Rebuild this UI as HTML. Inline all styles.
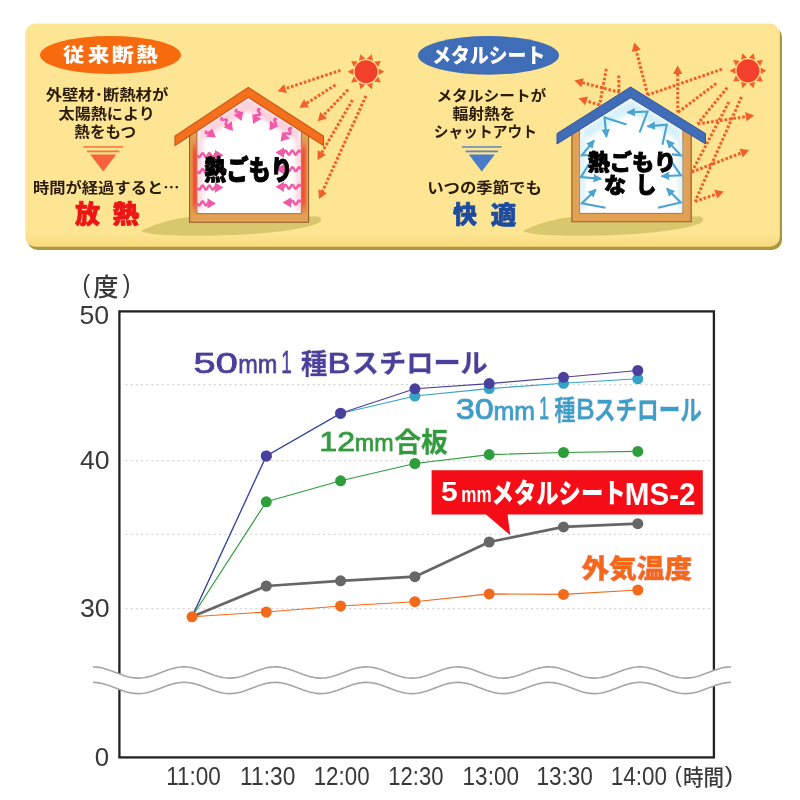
<!DOCTYPE html><html lang="ja"><head><meta charset="utf-8"><title>chart</title>
<style>html,body{margin:0;padding:0;background:#fff}svg{display:block}text{font-family:"Liberation Sans","Noto Sans CJK JP",sans-serif}.j{font-family:"Noto Sans CJK JP",sans-serif}</style></head><body>
<svg width="800" height="800" viewBox="0 0 800 800">
<defs><filter id="blur3" x="-100%" y="-20%" width="300%" height="140%"><feGaussianBlur stdDeviation="1.3 4"/></filter><linearGradient id="pg" x1="0" x2="0" y1="0" y2="1"><stop offset="0" stop-color="#fde593"/><stop offset="0.94" stop-color="#fde593"/><stop offset="1" stop-color="#f8da7c"/></linearGradient><filter id="halo" x="-5%" y="-30%" width="110%" height="160%"><feMorphology in="SourceAlpha" operator="dilate" radius="1.7" result="d"/><feGaussianBlur in="d" stdDeviation="0.5" result="db"/><feFlood flood-color="#fff"/><feComposite in2="db" operator="in" result="h"/><feMerge><feMergeNode in="h"/><feMergeNode in="h"/><feMergeNode in="SourceGraphic"/></feMerge></filter><filter id="blur2" x="-50%" y="-50%" width="200%" height="200%"><feGaussianBlur stdDeviation="2"/></filter><filter id="soft" x="-2%" y="-2%" width="104%" height="104%"><feGaussianBlur stdDeviation="0.5"/></filter><linearGradient id="wl" x1="0" x2="1" y1="0" y2="0"><stop offset="0" stop-color="#dc9a4c"/><stop offset="0.45" stop-color="#e8804a"/><stop offset="1" stop-color="#f05a3c"/></linearGradient><linearGradient id="wr" x1="1" x2="0" y1="0" y2="0"><stop offset="0" stop-color="#dc9a4c"/><stop offset="0.45" stop-color="#e8804a"/><stop offset="1" stop-color="#f05a3c"/></linearGradient></defs>
<rect width="800" height="800" fill="#fff"/>
<g filter="url(#soft)">
<rect x="27.5" y="27" width="754.5" height="223" rx="10" fill="#ad963f"/>
<rect x="25.3" y="23.5" width="754.5" height="223.3" rx="10" fill="url(#pg)"/>
<path d="M141,231 C150,226 170,219 192,216.5 L318,216.5 C323,218 322,222 316,224 C308,227 300,228 290,230 C270,233 240,235.5 215,235.5 C185,236 150,236 141,231Z" fill="#d9c76e"/>
<path d="M141,231 C150,226 170,219 192,216.5 L318,216.5 C323,218 322,222 316,224 C308,227 300,228 290,230 C270,233 240,235.5 215,235.5 C185,236 150,236 141,231Z" fill="#d9c76e" transform="translate(382,0)"/>
<polygon points="189.6,222.3 189.6,133.8 248.3,94.9 308.6,134.9 308.6,222.3" fill="#e2a052" stroke="#96592c" stroke-width="1.1"/>
<polygon points="197.0,213.6 197.0,129.9 248.3,95.9 301.3,131.0 301.3,213.6" fill="#fff" stroke="#96592c" stroke-width="0.8"/>
<clipPath id="wc"><rect x="190.2" y="138" width="6.4" height="78"/><rect x="301.7" y="138" width="6.4" height="78"/></clipPath>
<g clip-path="url(#wc)"><g filter="url(#blur3)" opacity="0.95"><rect x="192.6" y="146" width="5.5" height="62" fill="#f2462a"/><rect x="300.2" y="146" width="5.5" height="62" fill="#f2462a"/></g></g>
<g filter="url(#blur2)" opacity="0.4"><polygon points="248.3,98 199,130 199,142 248.3,111 299,142 299,130" fill="#f58aa8"/><rect x="197.5" y="140" width="5" height="70" fill="#f58aa8"/><rect x="296" y="140" width="5" height="70" fill="#f58aa8"/></g>
<polygon points="248.3,87.4 323.5,136 323.5,145.5 248.3,97.4 175,145.5 175,136" fill="#f5701c" stroke="#c9531a" stroke-width="1.1"/>
<polygon points="571.9,221.8 571.9,132.6 630.6,95.5 691.2,133.8 691.2,221.8" fill="#e2a052" stroke="#96592c" stroke-width="1.1"/>
<polygon points="579.6,213.4 579.6,128.7 630.6,96.5 682.8,129.5 682.8,213.4" fill="#fff" stroke="#96592c" stroke-width="0.8"/>
<g filter="url(#blur2)" opacity="0.45"><polygon points="630.6,99 582,130 582,142 630.6,112 681,142 681,130" fill="#a8def2"/><rect x="580" y="140" width="5" height="70" fill="#a8def2"/><rect x="678" y="140" width="5" height="70" fill="#a8def2"/></g>
<polygon points="630.6,87 705.5,133.5 705.5,144 630.6,97.8 557,144 557,133.5" fill="#3f6cb8" stroke="#34579a" stroke-width="1"/>
<polyline points="237.0,109.0 236.3,109.8 235.8,110.6 235.7,111.2 236.0,111.6 236.7,111.9 237.7,112.1 238.8,112.3 239.8,112.5 240.4,112.8 240.7,113.3 240.5,113.9 240.0,114.6 239.3,115.5" fill="none" stroke="#f05aa8" stroke-width="2.4"/>
<polygon points="241.5,121.0 233.7,114.8 243.3,111.3" fill="#f05aa8"/>
<polyline points="222.0,117.0 221.6,118.0 221.4,118.8 221.4,119.4 221.8,119.8 222.5,119.9 223.5,119.8 224.5,119.6 225.5,119.5 226.3,119.5 226.8,119.8 226.9,120.4 226.7,121.2 226.3,122.2 225.9,123.1 225.6,124.0 225.6,124.7 225.9,125.1 226.5,125.2 227.5,125.2 228.5,125.0 229.5,124.8 230.4,124.8 230.9,125.1" fill="none" stroke="#f05aa8" stroke-width="2.4"/>
<polygon points="233.0,131.0 223.7,127.5 231.8,121.2" fill="#f05aa8"/>
<polyline points="206.0,130.5 205.9,131.6 205.9,132.4 206.1,133.0 206.6,133.2 207.4,133.1 208.3,132.7 209.3,132.2 210.2,131.8 210.9,131.7 211.4,131.9 211.7,132.4 211.7,133.3" fill="none" stroke="#f05aa8" stroke-width="2.4"/>
<polygon points="216.0,137.5 206.1,136.8 212.0,128.4" fill="#f05aa8"/>
<polyline points="260.5,109.0 259.4,109.1 258.6,109.2 258.0,109.5 257.9,110.0 258.1,110.7 258.6,111.5 259.2,112.4 259.8,113.2 260.1,114.0 260.0,114.5 259.5,114.8 258.7,115.0 257.7,115.1 256.6,115.1 255.7,115.2 255.1,115.5 254.8,116.0 255.0,116.6 255.5,117.4 256.1,118.3 256.6,119.2" fill="none" stroke="#f05aa8" stroke-width="2.4"/>
<polygon points="253.0,124.0 252.2,114.1 261.4,118.7" fill="#f05aa8"/>
<polyline points="277.0,119.0 275.9,118.9 275.1,119.0 274.5,119.2 274.3,119.7 274.4,120.4 274.9,121.3 275.4,122.3 275.8,123.2 276.0,123.9 275.8,124.4 275.3,124.7 274.5,124.8 273.4,124.7 272.3,124.6 271.4,124.7" fill="none" stroke="#f05aa8" stroke-width="2.4"/>
<polygon points="269.5,130.5 269.9,120.6 278.4,126.2" fill="#f05aa8"/>
<polyline points="292.0,128.5 291.0,128.3 290.1,128.2 289.5,128.4 289.2,128.8 289.3,129.5 289.5,130.5 289.9,131.5 290.2,132.5 290.3,133.2 290.1,133.7 289.5,133.9 288.6,133.8 287.6,133.6 286.6,133.4 285.7,133.3 285.0,133.4 284.7,133.8 284.7,134.5 285.0,135.5 285.4,136.5 285.7,137.4 285.8,138.2" fill="none" stroke="#f05aa8" stroke-width="2.4"/>
<polygon points="280.5,141.5 282.3,131.8 290.0,138.5" fill="#f05aa8"/>
<polyline points="197.5,155.2 198.0,156.1 198.5,156.8 199.0,157.2 199.5,157.1 200.0,156.7 200.5,155.9 201.0,155.0 201.5,154.1 202.0,153.5 202.5,153.2 203.0,153.3 203.5,153.9 204.0,154.7 204.5,155.6 205.0,156.4 205.5,157.0 206.0,157.2 206.5,157.0 207.0,156.4 207.5,155.5 208.0,154.6 208.5,153.8 209.0,153.3 209.5,153.2 210.0,153.5 210.5,154.2 211.0,155.1 211.5,156.0 212.0,156.7 212.5,157.1 213.0,157.2 213.5,156.8 214.0,156.0 214.5,155.1 215.0,154.2 215.5,153.6 216.0,153.2 216.5,153.3 217.0,153.8 217.6,154.6" fill="none" stroke="#f05aa8" stroke-width="2.4"/>
<polygon points="223.5,155.2 215.0,160.3 215.0,150.1" fill="#f05aa8"/>
<polyline points="197.5,171.0 198.0,171.9 198.5,172.6 199.0,173.0 199.5,172.9 200.0,172.5 200.5,171.7 201.0,170.8 201.5,169.9 202.0,169.3 202.5,169.0 203.0,169.1 203.5,169.7 204.0,170.5 204.5,171.4 205.0,172.2 205.5,172.8 206.0,173.0 206.5,172.8 207.0,172.2 207.5,171.3 208.0,170.4 208.5,169.6 209.0,169.1 209.5,169.0 210.0,169.3 210.5,170.0 211.0,170.9 211.5,171.8 212.0,172.5 212.5,172.9 213.0,173.0 213.5,172.6 214.0,171.8 214.5,170.9 215.0,170.0 215.5,169.4 216.0,169.0 216.5,169.1 217.0,169.6 217.6,170.4" fill="none" stroke="#f05aa8" stroke-width="2.4"/>
<polygon points="223.5,171.0 215.0,176.1 215.0,165.9" fill="#f05aa8"/>
<polyline points="197.5,187.6 198.0,188.5 198.5,189.2 199.0,189.6 199.5,189.5 200.0,189.1 200.5,188.3 201.0,187.4 201.5,186.5 202.0,185.9 202.5,185.6 203.0,185.7 203.5,186.3 204.0,187.1 204.5,188.0 205.0,188.8 205.5,189.4 206.0,189.6 206.5,189.4 207.0,188.8 207.5,187.9 208.0,187.0 208.5,186.2 209.0,185.7 209.5,185.6 210.0,185.9 210.5,186.6 211.0,187.5 211.5,188.4 212.0,189.1 212.5,189.5 213.0,189.6 213.5,189.2 214.0,188.4 214.5,187.5 215.0,186.6 215.5,186.0 216.0,185.6 216.5,185.7 217.0,186.2 217.6,187.0" fill="none" stroke="#f05aa8" stroke-width="2.4"/>
<polygon points="223.5,187.6 215.0,192.7 215.0,182.5" fill="#f05aa8"/>
<polyline points="197.5,203.4 198.0,204.3 198.5,205.0 199.0,205.4 199.5,205.3 200.0,204.9 200.5,204.1 201.0,203.2 201.5,202.3 202.0,201.7 202.5,201.4 203.0,201.6 203.5,202.1 204.0,202.9 204.5,203.8 205.0,204.6 205.5,205.2 206.0,205.4 206.5,205.2 207.0,204.5 207.5,203.7 208.0,202.8 208.5,202.0 209.0,201.5 209.5,201.4 210.1,201.8" fill="none" stroke="#f05aa8" stroke-width="2.4"/>
<polygon points="216.0,203.4 207.5,208.5 207.5,198.3" fill="#f05aa8"/>
<polyline points="300.8,152.6 300.3,151.7 299.8,151.0 299.3,150.6 298.8,150.7 298.3,151.2 297.7,152.0 297.2,152.9 296.7,153.8 296.2,154.4 295.7,154.6 295.2,154.4 294.7,153.8 294.2,152.9 293.7,152.0 293.2,151.2 292.7,150.7 292.1,150.6 291.6,151.0 291.1,151.7 290.6,152.6 290.1,153.5 289.6,154.2 289.1,154.6 288.6,154.5 288.1,154.0 287.6,153.3 287.1,152.3 286.5,151.5 286.0,150.8 285.5,150.6 285.0,150.8 284.5,151.4 284.0,152.2 283.5,153.2 283.0,154.0 282.5,154.5 282.0,154.6 281.4,154.2" fill="none" stroke="#f05aa8" stroke-width="2.4"/>
<polygon points="275.5,152.6 284.0,147.5 284.0,157.7" fill="#f05aa8"/>
<polyline points="300.8,169.2 300.3,168.3 299.8,167.6 299.3,167.2 298.8,167.3 298.3,167.8 297.7,168.6 297.2,169.5 296.7,170.4 296.2,171.0 295.7,171.2 295.2,171.0 294.7,170.4 294.2,169.5 293.7,168.6 293.2,167.8 292.7,167.3 292.1,167.2 291.6,167.6 291.1,168.3 290.6,169.2 290.1,170.1 289.6,170.8 289.1,171.2 288.6,171.1 288.1,170.6 287.6,169.9 287.1,168.9 286.5,168.1 286.0,167.4 285.5,167.2 285.0,167.4 284.5,168.0 284.0,168.8 283.5,169.8 283.0,170.6 282.5,171.1 282.0,171.2 281.4,170.8" fill="none" stroke="#f05aa8" stroke-width="2.4"/>
<polygon points="275.5,169.2 284.0,164.1 284.0,174.3" fill="#f05aa8"/>
<polyline points="300.8,186.8 300.3,185.9 299.8,185.2 299.3,184.8 298.8,184.9 298.3,185.4 297.7,186.2 297.2,187.1 296.7,188.0 296.2,188.6 295.7,188.8 295.2,188.6 294.7,188.0 294.2,187.1 293.7,186.2 293.2,185.4 292.7,184.9 292.1,184.8 291.6,185.2 291.1,185.9 290.6,186.8 290.1,187.7 289.6,188.4 289.1,188.8 288.6,188.7 288.1,188.2 287.6,187.5 287.1,186.5 286.5,185.7 286.0,185.0 285.5,184.8 285.0,185.0 284.5,185.6 284.0,186.4 283.5,187.4 283.0,188.2 282.5,188.7 282.0,188.8 281.4,188.4" fill="none" stroke="#f05aa8" stroke-width="2.4"/>
<polygon points="275.5,186.8 284.0,181.7 284.0,191.9" fill="#f05aa8"/>
<polyline points="300.8,202.5 300.3,201.6 299.8,200.9 299.3,200.5 298.7,200.6 298.2,201.1 297.7,201.9 297.2,202.9 296.7,203.7 296.2,204.3 295.7,204.5 295.1,204.2 294.6,203.6 294.1,202.7 293.6,201.8 293.1,201.0 292.6,200.6 292.1,200.6 291.5,201.0 291.0,201.7 290.5,202.7 290.0,203.6 289.5,204.2 289.0,204.5 288.4,204.3" fill="none" stroke="#f05aa8" stroke-width="2.4"/>
<polygon points="282.5,202.5 291.0,197.4 291.0,207.6" fill="#f05aa8"/>
<polyline points="626.5,124.6 604.6,117.6 606.4,136.9" fill="none" stroke="#48a4d2" stroke-width="2.1" stroke-linejoin="miter"/>
<polygon points="606.5,137.9 601.6,129.8 609.8,129.0" fill="#48a4d2"/>
<polyline points="639.6,132.5 647.5,111.5 627.4,112.4" fill="none" stroke="#48a4d2" stroke-width="2.1" stroke-linejoin="miter"/>
<polygon points="626.4,112.4 634.7,107.9 635.1,116.2" fill="#48a4d2"/>
<polyline points="662.4,144.8 666.8,124.6 647.5,126.4" fill="none" stroke="#48a4d2" stroke-width="2.1" stroke-linejoin="miter"/>
<polygon points="646.5,126.5 654.6,121.6 655.3,129.8" fill="#48a4d2"/>
<polyline points="672.0,154.4 680.8,155.3 666.8,140.4" fill="none" stroke="#48a4d2" stroke-width="2.1" stroke-linejoin="miter"/>
<polygon points="666.1,139.6 674.9,143.0 668.9,148.7" fill="#48a4d2"/>
<polyline points="672.0,162.3 680.8,175.4 661.5,176.3" fill="none" stroke="#48a4d2" stroke-width="2.1" stroke-linejoin="miter"/>
<polygon points="660.5,176.3 668.8,171.8 669.2,180.0" fill="#48a4d2"/>
<polyline points="658.0,207.8 680.8,202.5 666.8,188.5" fill="none" stroke="#48a4d2" stroke-width="2.1" stroke-linejoin="miter"/>
<polygon points="666.0,187.8 675.0,190.9 669.1,196.7" fill="#48a4d2"/>
<polyline points="588.9,155.3 581.9,155.3 594.1,140.4" fill="none" stroke="#48a4d2" stroke-width="2.1" stroke-linejoin="miter"/>
<polygon points="594.8,139.6 592.5,148.8 586.2,143.5" fill="#48a4d2"/>
<polyline points="588.9,164.0 581.0,177.1 601.1,178.9" fill="none" stroke="#48a4d2" stroke-width="2.1" stroke-linejoin="miter"/>
<polygon points="602.1,179.0 593.3,182.3 594.0,174.1" fill="#48a4d2"/>
<polyline points="605.5,207.8 581.9,203.4 595.9,189.4" fill="none" stroke="#48a4d2" stroke-width="2.1" stroke-linejoin="miter"/>
<polygon points="596.6,188.7 593.5,197.6 587.7,191.8" fill="#48a4d2"/>
<circle cx="366.0" cy="71.7" r="11.5" fill="#f2402a"/>
<polygon points="384.4,71.7 378.6,75.0 378.6,68.4" fill="#f4622a"/>
<polygon points="380.9,82.5 374.3,81.8 378.1,76.4" fill="#f4622a"/>
<polygon points="371.7,89.2 366.8,84.7 373.0,82.7" fill="#f4622a"/>
<polygon points="360.3,89.2 359.0,82.7 365.2,84.7" fill="#f4622a"/>
<polygon points="351.1,82.5 353.9,76.4 357.7,81.8" fill="#f4622a"/>
<polygon points="347.6,71.7 353.4,68.4 353.4,75.0" fill="#f4622a"/>
<polygon points="351.1,60.9 357.7,61.6 353.9,67.0" fill="#f4622a"/>
<polygon points="360.3,54.2 365.2,58.7 359.0,60.7" fill="#f4622a"/>
<polygon points="371.7,54.2 373.0,60.7 366.8,58.7" fill="#f4622a"/>
<polygon points="380.9,60.9 378.1,67.0 374.3,61.6" fill="#f4622a"/>
<circle cx="748.0" cy="70.8" r="11.5" fill="#f2402a"/>
<polygon points="766.4,70.8 760.6,74.1 760.6,67.5" fill="#f4622a"/>
<polygon points="762.9,81.6 756.3,80.9 760.1,75.5" fill="#f4622a"/>
<polygon points="753.7,88.3 748.8,83.8 755.0,81.8" fill="#f4622a"/>
<polygon points="742.3,88.3 741.0,81.8 747.2,83.8" fill="#f4622a"/>
<polygon points="733.1,81.6 735.9,75.5 739.7,80.9" fill="#f4622a"/>
<polygon points="729.6,70.8 735.4,67.5 735.4,74.1" fill="#f4622a"/>
<polygon points="733.1,60.0 739.7,60.7 735.9,66.1" fill="#f4622a"/>
<polygon points="742.3,53.3 747.2,57.8 741.0,59.8" fill="#f4622a"/>
<polygon points="753.7,53.3 755.0,59.8 748.8,57.8" fill="#f4622a"/>
<polygon points="762.9,60.0 760.1,66.1 756.3,60.7" fill="#f4622a"/>
<line x1="340.5" y1="70.3" x2="284.0" y2="89.1" stroke="#f0602a" stroke-width="3.0" stroke-dasharray="2.7 1.8"/>
<polygon points="277.5,91.3 284.1,84.2 287.0,93.0" fill="#f0602a"/>
<line x1="335.5" y1="85.0" x2="305.1" y2="104.2" stroke="#f0602a" stroke-width="3.0" stroke-dasharray="2.7 1.8"/>
<polygon points="299.3,107.8 304.0,99.3 309.0,107.2" fill="#f0602a"/>
<line x1="348.0" y1="89.8" x2="322.4" y2="116.4" stroke="#f0602a" stroke-width="3.0" stroke-dasharray="2.7 1.8"/>
<polygon points="317.7,121.3 320.2,111.9 327.0,118.4" fill="#f0602a"/>
<line x1="352.5" y1="100.0" x2="320.9" y2="154.1" stroke="#f0602a" stroke-width="3.0" stroke-dasharray="2.7 1.8"/>
<polygon points="317.5,160.0 317.7,150.3 325.8,155.0" fill="#f0602a"/>
<line x1="366.0" y1="95.8" x2="321.8" y2="192.8" stroke="#f0602a" stroke-width="3.0" stroke-dasharray="2.7 1.8"/>
<polygon points="319.0,199.0 318.3,189.3 326.8,193.2" fill="#f0602a"/>
<line x1="619.8" y1="92.4" x2="580.9" y2="82.3" stroke="#f0602a" stroke-width="3.0" stroke-dasharray="2.7 1.8"/>
<polygon points="574.3,80.6 583.7,78.2 581.4,87.3" fill="#f0602a"/>
<line x1="599.6" y1="105.0" x2="585.0" y2="100.4" stroke="#f0602a" stroke-width="3.0" stroke-dasharray="2.7 1.8"/>
<polygon points="578.5,98.3 588.0,96.4 585.2,105.3" fill="#f0602a"/>
<line x1="606.3" y1="68.8" x2="599.6" y2="105.0" stroke="#f0602a" stroke-width="3.0" stroke-dasharray="2.7 1.8"/>
<line x1="618.7" y1="75.5" x2="619.0" y2="93.2" stroke="#f0602a" stroke-width="3.0" stroke-dasharray="2.7 1.8"/>
<line x1="722.0" y1="69.2" x2="647.7" y2="94.9" stroke="#f0602a" stroke-width="3.0" stroke-dasharray="2.7 1.8"/>
<line x1="647.7" y1="94.9" x2="635.9" y2="49.2" stroke="#f0602a" stroke-width="3.0" stroke-dasharray="2.7 1.8"/>
<polygon points="634.2,42.6 640.9,49.7 631.8,52.0" fill="#f0602a"/>
<line x1="716.2" y1="83.4" x2="677.7" y2="112.6" stroke="#f0602a" stroke-width="3.0" stroke-dasharray="2.7 1.8"/>
<line x1="677.7" y1="112.6" x2="677.7" y2="72.2" stroke="#f0602a" stroke-width="3.0" stroke-dasharray="2.7 1.8"/>
<polygon points="677.7,65.4 682.4,73.9 673.0,73.9" fill="#f0602a"/>
<line x1="727.2" y1="87.6" x2="697.7" y2="123.9" stroke="#f0602a" stroke-width="3.0" stroke-dasharray="2.7 1.8"/>
<line x1="697.7" y1="123.9" x2="747.5" y2="116.4" stroke="#f0602a" stroke-width="3.0" stroke-dasharray="2.7 1.8"/>
<polygon points="754.2,115.4 746.5,121.3 745.1,112.0" fill="#f0602a"/>
<line x1="728.9" y1="101.9" x2="691.8" y2="172.0" stroke="#f0602a" stroke-width="3.0" stroke-dasharray="2.7 1.8"/>
<line x1="691.8" y1="172.0" x2="742.8" y2="152.4" stroke="#f0602a" stroke-width="3.0" stroke-dasharray="2.7 1.8"/>
<polygon points="749.1,150.0 742.8,157.4 739.5,148.7" fill="#f0602a"/>
<line x1="741.5" y1="96.9" x2="695.1" y2="201.5" stroke="#f0602a" stroke-width="3.0" stroke-dasharray="2.7 1.8"/>
<line x1="695.1" y1="201.5" x2="717.4" y2="193.7" stroke="#f0602a" stroke-width="3.0" stroke-dasharray="2.7 1.8"/>
<polygon points="723.8,191.4 717.3,198.6 714.2,189.8" fill="#f0602a"/>
<ellipse cx="110.5" cy="55" rx="70.5" ry="19" fill="#f76a0e"/>
<text x="63.07" y="62.32" font-size="18.75" font-weight="900" fill="#fff" textLength="21.35" lengthAdjust="spacingAndGlyphs" >従</text>
<text x="87.77" y="62.32" font-size="18.75" font-weight="900" fill="#fff" textLength="21.58" lengthAdjust="spacingAndGlyphs" >来</text>
<text x="111.7" y="62.31" font-size="18.95" font-weight="900" fill="#fff" textLength="22.04" lengthAdjust="spacingAndGlyphs" >断</text>
<text x="136.36" y="62.32" font-size="18.75" font-weight="900" fill="#fff" textLength="21.35" lengthAdjust="spacingAndGlyphs" >熱</text>
<text x="45.67" y="99.69" font-size="14.58" font-weight="700" fill="#2a1a08" textLength="122.65" lengthAdjust="spacingAndGlyphs" >外壁材･断熱材が</text>
<text x="58.52" y="118.66" font-size="14.89" font-weight="700" fill="#2a1a08" textLength="96.38" lengthAdjust="spacingAndGlyphs" >太陽熱により</text>
<text x="74.38" y="137.16" font-size="14.89" font-weight="700" fill="#2a1a08" textLength="61.71" lengthAdjust="spacingAndGlyphs" >熱をもつ</text>
<text x="33.02" y="193.19" font-size="14.58" font-weight="700" fill="#2a1a08" textLength="146.44" lengthAdjust="spacingAndGlyphs" >時間が経過すると<tspan class="j">…</tspan></text>
<text x="75.0" y="223.31" font-size="24.49" font-weight="900" fill="#ec1414" textLength="25.0" lengthAdjust="spacingAndGlyphs" stroke="#ec1414" stroke-width="0.7" stroke-linejoin="round" >放</text>
<text x="112.47" y="223.31" font-size="24.49" font-weight="900" fill="#ec1414" textLength="26.53" lengthAdjust="spacingAndGlyphs" stroke="#ec1414" stroke-width="0.7" stroke-linejoin="round" >熱</text>
<rect x="83.3" y="146.2" width="39.8" height="1.5" fill="#ee7838"/>
<rect x="87.0" y="150.5" width="32.4" height="1.8" fill="#ee7838"/>
<polygon points="90.2,154.4 116.2,154.4 103.2,171.4" fill="#f7623c"/>
<ellipse cx="488.5" cy="55.4" rx="70.5" ry="19.3" fill="#3f6db8"/>
<text x="432.31" y="62.87" font-size="20.43" font-weight="900" fill="#fff" textLength="112.95" lengthAdjust="spacingAndGlyphs" >メタルシート</text>
<text x="436.43" y="100.96" font-size="14.89" font-weight="700" fill="#2a1a08" textLength="109.88" lengthAdjust="spacingAndGlyphs" >メタルシートが</text>
<text x="452.53" y="118.66" font-size="14.89" font-weight="700" fill="#2a1a08" textLength="63.05" lengthAdjust="spacingAndGlyphs" >輻射熱を</text>
<text x="433.82" y="136.84" font-size="15.05" font-weight="700" fill="#2a1a08" textLength="103.09" lengthAdjust="spacingAndGlyphs" >シャットアウト</text>
<rect x="461.9" y="146.2" width="39.8" height="1.5" fill="#6288b4"/>
<rect x="465.6" y="150.5" width="32.4" height="1.8" fill="#6288b4"/>
<polygon points="468.8,154.4 494.8,154.4 481.8,171.4" fill="#4a7cc8"/>
<text x="427.2" y="193.17" font-size="14.74" font-weight="700" fill="#2a1a08" textLength="114.6" lengthAdjust="spacingAndGlyphs" >いつの季節でも</text>
<text x="453.0" y="223.09" font-size="24.24" font-weight="900" fill="#1c4ca0" textLength="24.0" lengthAdjust="spacingAndGlyphs" stroke="#1c4ca0" stroke-width="0.7" stroke-linejoin="round" >快</text>
<text x="490.74" y="223.53" font-size="24.74" font-weight="900" fill="#1c4ca0" textLength="25.51" lengthAdjust="spacingAndGlyphs" stroke="#1c4ca0" stroke-width="0.7" stroke-linejoin="round" >適</text>
<text x="204.28" y="179.71" font-size="27.45" font-weight="900" fill="#000" textLength="88.44" lengthAdjust="spacingAndGlyphs" stroke="#000" stroke-width="1.0" stroke-linejoin="round" >熱ごもり</text>
<text x="587.78" y="169.66" font-size="21.18" font-weight="900" fill="#000" textLength="88.25" lengthAdjust="spacingAndGlyphs" stroke="#000" stroke-width="0.9" stroke-linejoin="round" >熱ごもり</text>
<text x="604.11" y="193.05" font-size="21.7" font-weight="900" fill="#000" textLength="22.15" lengthAdjust="spacingAndGlyphs" stroke="#000" stroke-width="0.9" stroke-linejoin="round" >な</text>
<text x="635.71" y="192.98" font-size="22.42" font-weight="900" fill="#000" textLength="20.53" lengthAdjust="spacingAndGlyphs" stroke="#000" stroke-width="0.9" stroke-linejoin="round" >し</text>
<rect x="119.4" y="311.4" width="594.5" height="446.0" fill="#fff" stroke="#222" stroke-width="2.3"/>
<line x1="125.4" y1="384.6" x2="711.9" y2="384.6" stroke="#d4d4d4" stroke-width="1.2" stroke-dasharray="2 3.2"/>
<line x1="125.4" y1="460.6" x2="711.9" y2="460.6" stroke="#d4d4d4" stroke-width="1.2" stroke-dasharray="2 3.2"/>
<line x1="125.4" y1="534.3" x2="711.9" y2="534.3" stroke="#d4d4d4" stroke-width="1.2" stroke-dasharray="2 3.2"/>
<line x1="125.4" y1="608.6" x2="711.9" y2="608.6" stroke="#d4d4d4" stroke-width="1.2" stroke-dasharray="2 3.2"/>
<polygon points="93.0,666.9 95.0,667.0 97.0,667.1 99.0,667.4 101.0,667.8 103.0,668.2 105.0,668.8 107.0,669.4 109.0,670.0 111.0,670.8 113.0,671.5 115.0,672.3 117.0,673.0 119.0,673.8 121.0,674.5 123.0,675.2 125.0,675.9 127.0,676.5 129.0,677.0 131.0,677.4 133.0,677.7 135.0,677.9 137.0,678.1 139.0,678.1 141.0,678.0 143.0,677.8 145.0,677.5 147.0,677.1 149.0,676.7 151.0,676.1 153.0,675.5 155.0,674.8 157.0,674.1 159.0,673.3 161.0,672.6 163.0,671.8 165.0,671.1 167.0,670.3 169.0,669.6 171.0,669.0 173.0,668.4 175.0,667.9 177.0,667.5 179.0,667.2 181.0,667.0 183.0,666.9 185.0,666.9 187.0,667.0 189.0,667.2 191.0,667.5 193.0,667.9 195.0,668.4 197.0,669.0 199.0,669.6 201.0,670.3 203.0,671.1 205.0,671.8 207.0,672.6 209.0,673.3 211.0,674.1 213.0,674.8 215.0,675.5 217.0,676.1 219.0,676.7 221.0,677.1 223.0,677.5 225.0,677.8 227.0,678.0 229.0,678.1 231.0,678.1 233.0,677.9 235.0,677.7 237.0,677.4 239.0,677.0 241.0,676.5 243.0,675.9 245.0,675.2 247.0,674.5 249.0,673.8 251.0,673.0 253.0,672.3 255.0,671.5 257.0,670.8 259.0,670.0 261.0,669.4 263.0,668.8 265.0,668.2 267.0,667.8 269.0,667.4 271.0,667.1 273.0,667.0 275.0,666.9 277.0,666.9 279.0,667.1 281.0,667.3 283.0,667.7 285.0,668.1 287.0,668.7 289.0,669.2 291.0,669.9 293.0,670.6 295.0,671.4 297.0,672.1 299.0,672.9 301.0,673.6 303.0,674.4 305.0,675.1 307.0,675.8 309.0,676.3 311.0,676.9 313.0,677.3 315.0,677.7 317.0,677.9 319.0,678.1 321.0,678.1 323.0,678.0 325.0,677.9 327.0,677.6 329.0,677.2 331.0,676.8 333.0,676.2 335.0,675.6 337.0,675.0 339.0,674.2 341.0,673.5 343.0,672.7 345.0,672.0 347.0,671.2 349.0,670.5 351.0,669.8 353.0,669.1 355.0,668.5 357.0,668.0 359.0,667.6 361.0,667.3 363.0,667.1 365.0,666.9 367.0,666.9 369.0,667.0 371.0,667.2 373.0,667.5 375.0,667.9 377.0,668.3 379.0,668.9 381.0,669.5 383.0,670.2 385.0,670.9 387.0,671.7 389.0,672.4 391.0,673.2 393.0,673.9 395.0,674.7 397.0,675.4 399.0,676.0 401.0,676.6 403.0,677.1 405.0,677.5 407.0,677.8 409.0,678.0 411.0,678.1 413.0,678.1 415.0,678.0 417.0,677.8 419.0,677.5 421.0,677.1 423.0,676.6 425.0,676.0 427.0,675.4 429.0,674.7 431.0,673.9 433.0,673.2 435.0,672.4 437.0,671.7 439.0,670.9 441.0,670.2 443.0,669.5 445.0,668.9 447.0,668.3 449.0,667.9 451.0,667.5 453.0,667.2 455.0,667.0 457.0,666.9 459.0,666.9 461.0,667.1 463.0,667.3 465.0,667.6 467.0,668.0 469.0,668.5 471.0,669.1 473.0,669.8 475.0,670.5 477.0,671.2 479.0,672.0 481.0,672.7 483.0,673.5 485.0,674.2 487.0,675.0 489.0,675.6 491.0,676.2 493.0,676.8 495.0,677.2 497.0,677.6 499.0,677.9 501.0,678.0 503.0,678.1 505.0,678.1 507.0,677.9 509.0,677.7 511.0,677.3 513.0,676.9 515.0,676.3 517.0,675.8 519.0,675.1 521.0,674.4 523.0,673.6 525.0,672.9 527.0,672.1 529.0,671.4 531.0,670.6 533.0,669.9 535.0,669.2 537.0,668.7 539.0,668.1 541.0,667.7 543.0,667.3 545.0,667.1 547.0,666.9 549.0,666.9 551.0,667.0 553.0,667.1 555.0,667.4 557.0,667.8 559.0,668.2 561.0,668.8 563.0,669.4 565.0,670.0 567.0,670.8 569.0,671.5 571.0,672.3 573.0,673.0 575.0,673.8 577.0,674.5 579.0,675.2 581.0,675.9 583.0,676.5 585.0,677.0 587.0,677.4 589.0,677.7 591.0,677.9 593.0,678.1 595.0,678.1 597.0,678.0 599.0,677.8 601.0,677.5 603.0,677.1 605.0,676.7 607.0,676.1 609.0,675.5 611.0,674.8 613.0,674.1 615.0,673.3 617.0,672.6 619.0,671.8 621.0,671.1 623.0,670.3 625.0,669.6 627.0,669.0 629.0,668.4 631.0,667.9 633.0,667.5 635.0,667.2 637.0,667.0 639.0,666.9 641.0,666.9 643.0,667.0 645.0,667.2 647.0,667.5 649.0,667.9 651.0,668.4 653.0,669.0 655.0,669.6 657.0,670.3 659.0,671.1 661.0,671.8 663.0,672.6 665.0,673.3 667.0,674.1 669.0,674.8 671.0,675.5 673.0,676.1 675.0,676.7 677.0,677.1 679.0,677.5 681.0,677.8 683.0,678.0 685.0,678.1 687.0,678.1 689.0,677.9 691.0,677.7 693.0,677.4 695.0,677.0 697.0,676.5 699.0,675.9 701.0,675.2 703.0,674.5 705.0,673.8 707.0,673.0 709.0,672.3 711.0,671.5 713.0,670.8 715.0,670.0 717.0,669.4 719.0,668.8 721.0,668.2 723.0,667.8 725.0,667.4 727.0,667.1 729.0,667.0 731.0,666.9 731.0,682.4 729.0,682.5 727.0,682.6 725.0,682.9 723.0,683.3 721.0,683.7 719.0,684.3 717.0,684.9 715.0,685.5 713.0,686.3 711.0,687.0 709.0,687.8 707.0,688.5 705.0,689.3 703.0,690.0 701.0,690.7 699.0,691.4 697.0,692.0 695.0,692.5 693.0,692.9 691.0,693.2 689.0,693.4 687.0,693.6 685.0,693.6 683.0,693.5 681.0,693.3 679.0,693.0 677.0,692.6 675.0,692.2 673.0,691.6 671.0,691.0 669.0,690.3 667.0,689.6 665.0,688.8 663.0,688.1 661.0,687.3 659.0,686.6 657.0,685.8 655.0,685.1 653.0,684.5 651.0,683.9 649.0,683.4 647.0,683.0 645.0,682.7 643.0,682.5 641.0,682.4 639.0,682.4 637.0,682.5 635.0,682.7 633.0,683.0 631.0,683.4 629.0,683.9 627.0,684.5 625.0,685.1 623.0,685.8 621.0,686.6 619.0,687.3 617.0,688.1 615.0,688.8 613.0,689.6 611.0,690.3 609.0,691.0 607.0,691.6 605.0,692.2 603.0,692.6 601.0,693.0 599.0,693.3 597.0,693.5 595.0,693.6 593.0,693.6 591.0,693.4 589.0,693.2 587.0,692.9 585.0,692.5 583.0,692.0 581.0,691.4 579.0,690.7 577.0,690.0 575.0,689.3 573.0,688.5 571.0,687.8 569.0,687.0 567.0,686.3 565.0,685.5 563.0,684.9 561.0,684.3 559.0,683.7 557.0,683.3 555.0,682.9 553.0,682.6 551.0,682.5 549.0,682.4 547.0,682.4 545.0,682.6 543.0,682.8 541.0,683.2 539.0,683.6 537.0,684.2 535.0,684.7 533.0,685.4 531.0,686.1 529.0,686.9 527.0,687.6 525.0,688.4 523.0,689.1 521.0,689.9 519.0,690.6 517.0,691.3 515.0,691.8 513.0,692.4 511.0,692.8 509.0,693.2 507.0,693.4 505.0,693.6 503.0,693.6 501.0,693.5 499.0,693.4 497.0,693.1 495.0,692.7 493.0,692.3 491.0,691.7 489.0,691.1 487.0,690.5 485.0,689.7 483.0,689.0 481.0,688.2 479.0,687.5 477.0,686.7 475.0,686.0 473.0,685.3 471.0,684.6 469.0,684.0 467.0,683.5 465.0,683.1 463.0,682.8 461.0,682.6 459.0,682.4 457.0,682.4 455.0,682.5 453.0,682.7 451.0,683.0 449.0,683.4 447.0,683.8 445.0,684.4 443.0,685.0 441.0,685.7 439.0,686.4 437.0,687.2 435.0,687.9 433.0,688.7 431.0,689.4 429.0,690.2 427.0,690.9 425.0,691.5 423.0,692.1 421.0,692.6 419.0,693.0 417.0,693.3 415.0,693.5 413.0,693.6 411.0,693.6 409.0,693.5 407.0,693.3 405.0,693.0 403.0,692.6 401.0,692.1 399.0,691.5 397.0,690.9 395.0,690.2 393.0,689.4 391.0,688.7 389.0,687.9 387.0,687.2 385.0,686.4 383.0,685.7 381.0,685.0 379.0,684.4 377.0,683.8 375.0,683.4 373.0,683.0 371.0,682.7 369.0,682.5 367.0,682.4 365.0,682.4 363.0,682.6 361.0,682.8 359.0,683.1 357.0,683.5 355.0,684.0 353.0,684.6 351.0,685.3 349.0,686.0 347.0,686.7 345.0,687.5 343.0,688.2 341.0,689.0 339.0,689.7 337.0,690.5 335.0,691.1 333.0,691.7 331.0,692.3 329.0,692.7 327.0,693.1 325.0,693.4 323.0,693.5 321.0,693.6 319.0,693.6 317.0,693.4 315.0,693.2 313.0,692.8 311.0,692.4 309.0,691.8 307.0,691.3 305.0,690.6 303.0,689.9 301.0,689.1 299.0,688.4 297.0,687.6 295.0,686.9 293.0,686.1 291.0,685.4 289.0,684.7 287.0,684.2 285.0,683.6 283.0,683.2 281.0,682.8 279.0,682.6 277.0,682.4 275.0,682.4 273.0,682.5 271.0,682.6 269.0,682.9 267.0,683.3 265.0,683.7 263.0,684.3 261.0,684.9 259.0,685.5 257.0,686.3 255.0,687.0 253.0,687.8 251.0,688.5 249.0,689.3 247.0,690.0 245.0,690.7 243.0,691.4 241.0,692.0 239.0,692.5 237.0,692.9 235.0,693.2 233.0,693.4 231.0,693.6 229.0,693.6 227.0,693.5 225.0,693.3 223.0,693.0 221.0,692.6 219.0,692.2 217.0,691.6 215.0,691.0 213.0,690.3 211.0,689.6 209.0,688.8 207.0,688.1 205.0,687.3 203.0,686.6 201.0,685.8 199.0,685.1 197.0,684.5 195.0,683.9 193.0,683.4 191.0,683.0 189.0,682.7 187.0,682.5 185.0,682.4 183.0,682.4 181.0,682.5 179.0,682.7 177.0,683.0 175.0,683.4 173.0,683.9 171.0,684.5 169.0,685.1 167.0,685.8 165.0,686.6 163.0,687.3 161.0,688.1 159.0,688.8 157.0,689.6 155.0,690.3 153.0,691.0 151.0,691.6 149.0,692.2 147.0,692.6 145.0,693.0 143.0,693.3 141.0,693.5 139.0,693.6 137.0,693.6 135.0,693.4 133.0,693.2 131.0,692.9 129.0,692.5 127.0,692.0 125.0,691.4 123.0,690.7 121.0,690.0 119.0,689.3 117.0,688.5 115.0,687.8 113.0,687.0 111.0,686.3 109.0,685.5 107.0,684.9 105.0,684.3 103.0,683.7 101.0,683.3 99.0,682.9 97.0,682.6 95.0,682.5 93.0,682.4" fill="#fff"/>
<polyline points="93.0,666.9 95.0,667.0 97.0,667.1 99.0,667.4 101.0,667.8 103.0,668.2 105.0,668.8 107.0,669.4 109.0,670.0 111.0,670.8 113.0,671.5 115.0,672.3 117.0,673.0 119.0,673.8 121.0,674.5 123.0,675.2 125.0,675.9 127.0,676.5 129.0,677.0 131.0,677.4 133.0,677.7 135.0,677.9 137.0,678.1 139.0,678.1 141.0,678.0 143.0,677.8 145.0,677.5 147.0,677.1 149.0,676.7 151.0,676.1 153.0,675.5 155.0,674.8 157.0,674.1 159.0,673.3 161.0,672.6 163.0,671.8 165.0,671.1 167.0,670.3 169.0,669.6 171.0,669.0 173.0,668.4 175.0,667.9 177.0,667.5 179.0,667.2 181.0,667.0 183.0,666.9 185.0,666.9 187.0,667.0 189.0,667.2 191.0,667.5 193.0,667.9 195.0,668.4 197.0,669.0 199.0,669.6 201.0,670.3 203.0,671.1 205.0,671.8 207.0,672.6 209.0,673.3 211.0,674.1 213.0,674.8 215.0,675.5 217.0,676.1 219.0,676.7 221.0,677.1 223.0,677.5 225.0,677.8 227.0,678.0 229.0,678.1 231.0,678.1 233.0,677.9 235.0,677.7 237.0,677.4 239.0,677.0 241.0,676.5 243.0,675.9 245.0,675.2 247.0,674.5 249.0,673.8 251.0,673.0 253.0,672.3 255.0,671.5 257.0,670.8 259.0,670.0 261.0,669.4 263.0,668.8 265.0,668.2 267.0,667.8 269.0,667.4 271.0,667.1 273.0,667.0 275.0,666.9 277.0,666.9 279.0,667.1 281.0,667.3 283.0,667.7 285.0,668.1 287.0,668.7 289.0,669.2 291.0,669.9 293.0,670.6 295.0,671.4 297.0,672.1 299.0,672.9 301.0,673.6 303.0,674.4 305.0,675.1 307.0,675.8 309.0,676.3 311.0,676.9 313.0,677.3 315.0,677.7 317.0,677.9 319.0,678.1 321.0,678.1 323.0,678.0 325.0,677.9 327.0,677.6 329.0,677.2 331.0,676.8 333.0,676.2 335.0,675.6 337.0,675.0 339.0,674.2 341.0,673.5 343.0,672.7 345.0,672.0 347.0,671.2 349.0,670.5 351.0,669.8 353.0,669.1 355.0,668.5 357.0,668.0 359.0,667.6 361.0,667.3 363.0,667.1 365.0,666.9 367.0,666.9 369.0,667.0 371.0,667.2 373.0,667.5 375.0,667.9 377.0,668.3 379.0,668.9 381.0,669.5 383.0,670.2 385.0,670.9 387.0,671.7 389.0,672.4 391.0,673.2 393.0,673.9 395.0,674.7 397.0,675.4 399.0,676.0 401.0,676.6 403.0,677.1 405.0,677.5 407.0,677.8 409.0,678.0 411.0,678.1 413.0,678.1 415.0,678.0 417.0,677.8 419.0,677.5 421.0,677.1 423.0,676.6 425.0,676.0 427.0,675.4 429.0,674.7 431.0,673.9 433.0,673.2 435.0,672.4 437.0,671.7 439.0,670.9 441.0,670.2 443.0,669.5 445.0,668.9 447.0,668.3 449.0,667.9 451.0,667.5 453.0,667.2 455.0,667.0 457.0,666.9 459.0,666.9 461.0,667.1 463.0,667.3 465.0,667.6 467.0,668.0 469.0,668.5 471.0,669.1 473.0,669.8 475.0,670.5 477.0,671.2 479.0,672.0 481.0,672.7 483.0,673.5 485.0,674.2 487.0,675.0 489.0,675.6 491.0,676.2 493.0,676.8 495.0,677.2 497.0,677.6 499.0,677.9 501.0,678.0 503.0,678.1 505.0,678.1 507.0,677.9 509.0,677.7 511.0,677.3 513.0,676.9 515.0,676.3 517.0,675.8 519.0,675.1 521.0,674.4 523.0,673.6 525.0,672.9 527.0,672.1 529.0,671.4 531.0,670.6 533.0,669.9 535.0,669.2 537.0,668.7 539.0,668.1 541.0,667.7 543.0,667.3 545.0,667.1 547.0,666.9 549.0,666.9 551.0,667.0 553.0,667.1 555.0,667.4 557.0,667.8 559.0,668.2 561.0,668.8 563.0,669.4 565.0,670.0 567.0,670.8 569.0,671.5 571.0,672.3 573.0,673.0 575.0,673.8 577.0,674.5 579.0,675.2 581.0,675.9 583.0,676.5 585.0,677.0 587.0,677.4 589.0,677.7 591.0,677.9 593.0,678.1 595.0,678.1 597.0,678.0 599.0,677.8 601.0,677.5 603.0,677.1 605.0,676.7 607.0,676.1 609.0,675.5 611.0,674.8 613.0,674.1 615.0,673.3 617.0,672.6 619.0,671.8 621.0,671.1 623.0,670.3 625.0,669.6 627.0,669.0 629.0,668.4 631.0,667.9 633.0,667.5 635.0,667.2 637.0,667.0 639.0,666.9 641.0,666.9 643.0,667.0 645.0,667.2 647.0,667.5 649.0,667.9 651.0,668.4 653.0,669.0 655.0,669.6 657.0,670.3 659.0,671.1 661.0,671.8 663.0,672.6 665.0,673.3 667.0,674.1 669.0,674.8 671.0,675.5 673.0,676.1 675.0,676.7 677.0,677.1 679.0,677.5 681.0,677.8 683.0,678.0 685.0,678.1 687.0,678.1 689.0,677.9 691.0,677.7 693.0,677.4 695.0,677.0 697.0,676.5 699.0,675.9 701.0,675.2 703.0,674.5 705.0,673.8 707.0,673.0 709.0,672.3 711.0,671.5 713.0,670.8 715.0,670.0 717.0,669.4 719.0,668.8 721.0,668.2 723.0,667.8 725.0,667.4 727.0,667.1 729.0,667.0 731.0,666.9" fill="none" stroke="#a6a6a6" stroke-width="1.6"/>
<polyline points="93.0,682.4 95.0,682.5 97.0,682.6 99.0,682.9 101.0,683.3 103.0,683.7 105.0,684.3 107.0,684.9 109.0,685.5 111.0,686.3 113.0,687.0 115.0,687.8 117.0,688.5 119.0,689.3 121.0,690.0 123.0,690.7 125.0,691.4 127.0,692.0 129.0,692.5 131.0,692.9 133.0,693.2 135.0,693.4 137.0,693.6 139.0,693.6 141.0,693.5 143.0,693.3 145.0,693.0 147.0,692.6 149.0,692.2 151.0,691.6 153.0,691.0 155.0,690.3 157.0,689.6 159.0,688.8 161.0,688.1 163.0,687.3 165.0,686.6 167.0,685.8 169.0,685.1 171.0,684.5 173.0,683.9 175.0,683.4 177.0,683.0 179.0,682.7 181.0,682.5 183.0,682.4 185.0,682.4 187.0,682.5 189.0,682.7 191.0,683.0 193.0,683.4 195.0,683.9 197.0,684.5 199.0,685.1 201.0,685.8 203.0,686.6 205.0,687.3 207.0,688.1 209.0,688.8 211.0,689.6 213.0,690.3 215.0,691.0 217.0,691.6 219.0,692.2 221.0,692.6 223.0,693.0 225.0,693.3 227.0,693.5 229.0,693.6 231.0,693.6 233.0,693.4 235.0,693.2 237.0,692.9 239.0,692.5 241.0,692.0 243.0,691.4 245.0,690.7 247.0,690.0 249.0,689.3 251.0,688.5 253.0,687.8 255.0,687.0 257.0,686.3 259.0,685.5 261.0,684.9 263.0,684.3 265.0,683.7 267.0,683.3 269.0,682.9 271.0,682.6 273.0,682.5 275.0,682.4 277.0,682.4 279.0,682.6 281.0,682.8 283.0,683.2 285.0,683.6 287.0,684.2 289.0,684.7 291.0,685.4 293.0,686.1 295.0,686.9 297.0,687.6 299.0,688.4 301.0,689.1 303.0,689.9 305.0,690.6 307.0,691.3 309.0,691.8 311.0,692.4 313.0,692.8 315.0,693.2 317.0,693.4 319.0,693.6 321.0,693.6 323.0,693.5 325.0,693.4 327.0,693.1 329.0,692.7 331.0,692.3 333.0,691.7 335.0,691.1 337.0,690.5 339.0,689.7 341.0,689.0 343.0,688.2 345.0,687.5 347.0,686.7 349.0,686.0 351.0,685.3 353.0,684.6 355.0,684.0 357.0,683.5 359.0,683.1 361.0,682.8 363.0,682.6 365.0,682.4 367.0,682.4 369.0,682.5 371.0,682.7 373.0,683.0 375.0,683.4 377.0,683.8 379.0,684.4 381.0,685.0 383.0,685.7 385.0,686.4 387.0,687.2 389.0,687.9 391.0,688.7 393.0,689.4 395.0,690.2 397.0,690.9 399.0,691.5 401.0,692.1 403.0,692.6 405.0,693.0 407.0,693.3 409.0,693.5 411.0,693.6 413.0,693.6 415.0,693.5 417.0,693.3 419.0,693.0 421.0,692.6 423.0,692.1 425.0,691.5 427.0,690.9 429.0,690.2 431.0,689.4 433.0,688.7 435.0,687.9 437.0,687.2 439.0,686.4 441.0,685.7 443.0,685.0 445.0,684.4 447.0,683.8 449.0,683.4 451.0,683.0 453.0,682.7 455.0,682.5 457.0,682.4 459.0,682.4 461.0,682.6 463.0,682.8 465.0,683.1 467.0,683.5 469.0,684.0 471.0,684.6 473.0,685.3 475.0,686.0 477.0,686.7 479.0,687.5 481.0,688.2 483.0,689.0 485.0,689.7 487.0,690.5 489.0,691.1 491.0,691.7 493.0,692.3 495.0,692.7 497.0,693.1 499.0,693.4 501.0,693.5 503.0,693.6 505.0,693.6 507.0,693.4 509.0,693.2 511.0,692.8 513.0,692.4 515.0,691.8 517.0,691.3 519.0,690.6 521.0,689.9 523.0,689.1 525.0,688.4 527.0,687.6 529.0,686.9 531.0,686.1 533.0,685.4 535.0,684.7 537.0,684.2 539.0,683.6 541.0,683.2 543.0,682.8 545.0,682.6 547.0,682.4 549.0,682.4 551.0,682.5 553.0,682.6 555.0,682.9 557.0,683.3 559.0,683.7 561.0,684.3 563.0,684.9 565.0,685.5 567.0,686.3 569.0,687.0 571.0,687.8 573.0,688.5 575.0,689.3 577.0,690.0 579.0,690.7 581.0,691.4 583.0,692.0 585.0,692.5 587.0,692.9 589.0,693.2 591.0,693.4 593.0,693.6 595.0,693.6 597.0,693.5 599.0,693.3 601.0,693.0 603.0,692.6 605.0,692.2 607.0,691.6 609.0,691.0 611.0,690.3 613.0,689.6 615.0,688.8 617.0,688.1 619.0,687.3 621.0,686.6 623.0,685.8 625.0,685.1 627.0,684.5 629.0,683.9 631.0,683.4 633.0,683.0 635.0,682.7 637.0,682.5 639.0,682.4 641.0,682.4 643.0,682.5 645.0,682.7 647.0,683.0 649.0,683.4 651.0,683.9 653.0,684.5 655.0,685.1 657.0,685.8 659.0,686.6 661.0,687.3 663.0,688.1 665.0,688.8 667.0,689.6 669.0,690.3 671.0,691.0 673.0,691.6 675.0,692.2 677.0,692.6 679.0,693.0 681.0,693.3 683.0,693.5 685.0,693.6 687.0,693.6 689.0,693.4 691.0,693.2 693.0,692.9 695.0,692.5 697.0,692.0 699.0,691.4 701.0,690.7 703.0,690.0 705.0,689.3 707.0,688.5 709.0,687.8 711.0,687.0 713.0,686.3 715.0,685.5 717.0,684.9 719.0,684.3 721.0,683.7 723.0,683.3 725.0,682.9 727.0,682.6 729.0,682.5 731.0,682.4" fill="none" stroke="#a6a6a6" stroke-width="1.6"/>
<polyline points="192.0,616.8 266.3,456.0 340.6,413.5 414.9,396.0 489.2,388.6 563.5,383.3 637.8,378.8" fill="none" stroke="#36a2c8" stroke-width="1.15" stroke-linejoin="round"/>
<circle cx="266.3" cy="456.0" r="5.5" fill="#36a2c8"/>
<circle cx="340.6" cy="413.5" r="5.5" fill="#36a2c8"/>
<circle cx="414.9" cy="396.0" r="5.5" fill="#36a2c8"/>
<circle cx="489.2" cy="388.6" r="5.5" fill="#36a2c8"/>
<circle cx="563.5" cy="383.3" r="5.5" fill="#36a2c8"/>
<circle cx="637.8" cy="378.8" r="5.5" fill="#36a2c8"/>
<polyline points="192.0,616.8 266.3,456.0 340.6,413.2 414.9,388.8 489.2,383.6 563.5,377.3 637.8,370.5" fill="none" stroke="#4a3f9e" stroke-width="1.15" stroke-linejoin="round"/>
<circle cx="266.3" cy="456.0" r="5.5" fill="#4a3f9e"/>
<circle cx="340.6" cy="413.2" r="5.5" fill="#4a3f9e"/>
<circle cx="414.9" cy="388.8" r="5.5" fill="#4a3f9e"/>
<circle cx="489.2" cy="383.6" r="5.5" fill="#4a3f9e"/>
<circle cx="563.5" cy="377.3" r="5.5" fill="#4a3f9e"/>
<circle cx="637.8" cy="370.5" r="5.5" fill="#4a3f9e"/>
<polyline points="192.0,616.8 266.3,501.8 340.6,480.8 414.9,463.5 489.2,454.6 563.5,452.5 637.8,451.4" fill="none" stroke="#2f9e3c" stroke-width="1.15" stroke-linejoin="round"/>
<circle cx="266.3" cy="501.8" r="5.5" fill="#2f9e3c"/>
<circle cx="340.6" cy="480.8" r="5.5" fill="#2f9e3c"/>
<circle cx="414.9" cy="463.5" r="5.5" fill="#2f9e3c"/>
<circle cx="489.2" cy="454.6" r="5.5" fill="#2f9e3c"/>
<circle cx="563.5" cy="452.5" r="5.5" fill="#2f9e3c"/>
<circle cx="637.8" cy="451.4" r="5.5" fill="#2f9e3c"/>
<polygon points="431.6,470.3 702.8,470.3 702.8,514.5 507.5,514.5 510.3,535.3 486,514.5 431.6,514.5" fill="#fff" stroke="#fff" stroke-width="4.6" stroke-linejoin="round"/>
<polygon points="431.6,470.3 702.8,470.3 702.8,514.5 507.5,514.5 510.3,535.3 486,514.5 431.6,514.5" fill="#f40d12"/>
<text x="441.0" y="501.32" font-size="27.57" font-weight="900" fill="#fff" textLength="16.69" lengthAdjust="spacingAndGlyphs" >5</text>
<text x="461.31" y="501.6" font-size="22.59" font-weight="900" fill="#fff" textLength="30.29" lengthAdjust="spacingAndGlyphs" >mm</text>
<text x="491.39" y="502.81" font-size="27.42" font-weight="900" fill="#fff" textLength="134.3" lengthAdjust="spacingAndGlyphs" >メタルシート</text>
<text x="624.83" y="504.69" font-size="30.99" font-weight="700" fill="#fff" textLength="70.73" lengthAdjust="spacingAndGlyphs" >MS-2</text>
<polyline points="192.0,616.8 266.3,586.0 340.6,580.8 414.9,576.7 489.2,542.0 563.5,526.9 637.8,523.7" fill="none" stroke="#666" stroke-width="2.7" stroke-linejoin="round"/>
<circle cx="266.3" cy="586.0" r="5.5" fill="#666"/>
<circle cx="340.6" cy="580.8" r="5.5" fill="#666"/>
<circle cx="414.9" cy="576.7" r="5.5" fill="#666"/>
<circle cx="489.2" cy="542.0" r="5.5" fill="#666"/>
<circle cx="563.5" cy="526.9" r="5.5" fill="#666"/>
<circle cx="637.8" cy="523.7" r="5.5" fill="#666"/>
<polyline points="192.0,616.8 266.3,612.0 340.6,606.0 414.9,601.7 489.2,593.9 563.5,594.4 637.8,590.0" fill="none" stroke="#f26a1b" stroke-width="1.15" stroke-linejoin="round"/>
<circle cx="192.0" cy="616.8" r="5.5" fill="#f26a1b"/>
<circle cx="266.3" cy="612.0" r="5.5" fill="#f26a1b"/>
<circle cx="340.6" cy="606.0" r="5.5" fill="#f26a1b"/>
<circle cx="414.9" cy="601.7" r="5.5" fill="#f26a1b"/>
<circle cx="489.2" cy="593.9" r="5.5" fill="#f26a1b"/>
<circle cx="563.5" cy="594.4" r="5.5" fill="#f26a1b"/>
<circle cx="637.8" cy="590.0" r="5.5" fill="#f26a1b"/>
<text x="82.62" y="293.26" font-size="26.38" font-weight="400" fill="#383838" textLength="7.69" lengthAdjust="spacingAndGlyphs" >(</text>
<text x="93.24" y="295.75" font-size="25.0" font-weight="500" fill="#383838" textLength="25.27" lengthAdjust="spacingAndGlyphs" >度</text>
<text x="122.77" y="293.26" font-size="26.38" font-weight="400" fill="#383838" textLength="7.69" lengthAdjust="spacingAndGlyphs" >)</text>
<text x="79.43" y="324.24" font-size="26.06" font-weight="400" fill="#383838" textLength="29.7" lengthAdjust="spacingAndGlyphs" >50</text>
<text x="79.97" y="468.74" font-size="26.06" font-weight="400" fill="#383838" textLength="29.66" lengthAdjust="spacingAndGlyphs" >40</text>
<text x="79.93" y="617.04" font-size="26.48" font-weight="400" fill="#383838" textLength="29.7" lengthAdjust="spacingAndGlyphs" >30</text>
<text x="94.77" y="766.34" font-size="26.2" font-weight="400" fill="#383838" textLength="14.37" lengthAdjust="spacingAndGlyphs" >0</text>
<text x="166.2" y="785.45" font-size="24.93" font-weight="400" fill="#383838" textLength="54.66" lengthAdjust="spacingAndGlyphs" >11:00</text>
<text x="240.08" y="785.45" font-size="24.93" font-weight="400" fill="#383838" textLength="55.19" lengthAdjust="spacingAndGlyphs" >11:30</text>
<text x="313.72" y="785.45" font-size="24.93" font-weight="400" fill="#383838" textLength="55.83" lengthAdjust="spacingAndGlyphs" >12:00</text>
<text x="388.24" y="785.45" font-size="24.93" font-weight="400" fill="#383838" textLength="55.2" lengthAdjust="spacingAndGlyphs" >12:30</text>
<text x="462.6" y="785.45" font-size="24.93" font-weight="400" fill="#383838" textLength="56.36" lengthAdjust="spacingAndGlyphs" >13:00</text>
<text x="536.39" y="785.45" font-size="24.93" font-weight="400" fill="#383838" textLength="56.46" lengthAdjust="spacingAndGlyphs" >13:30</text>
<text x="610.7" y="785.45" font-size="24.93" font-weight="400" fill="#383838" textLength="56.25" lengthAdjust="spacingAndGlyphs" >14:00</text>
<text x="674.73" y="782.2" font-size="22.87" font-weight="400" fill="#383838" textLength="7.05" lengthAdjust="spacingAndGlyphs" >(</text>
<text x="683.06" y="784.54" font-size="21.81" font-weight="500" fill="#383838" textLength="41.08" lengthAdjust="spacingAndGlyphs" >時間</text>
<text x="724.75" y="782.2" font-size="22.87" font-weight="400" fill="#383838" textLength="8.33" lengthAdjust="spacingAndGlyphs" >)</text>
<g filter="url(#halo)">
<text x="193.61" y="372.85" font-size="30.0" font-weight="400" fill="#4a3f9e" textLength="44.18" lengthAdjust="spacingAndGlyphs" stroke="#4a3f9e" stroke-width="1.0" stroke-linejoin="round">50</text>
<text x="238.23" y="373.23" font-size="25.86" font-weight="400" fill="#4a3f9e" textLength="39.11" lengthAdjust="spacingAndGlyphs" stroke="#4a3f9e" stroke-width="1.0" stroke-linejoin="round">mm</text>
<text x="281.36" y="373.13" font-size="30.82" font-weight="400" fill="#4a3f9e" textLength="10.58" lengthAdjust="spacingAndGlyphs" stroke="#4a3f9e" stroke-width="1.0" stroke-linejoin="round">1</text>
<text x="300.72" y="373.68" font-size="28.56" font-weight="700" fill="#4a3f9e" textLength="26.72" lengthAdjust="spacingAndGlyphs" stroke="#4a3f9e" stroke-width="0.3" stroke-linejoin="round">種</text>
<text x="327.58" y="373.15" font-size="29.93" font-weight="400" fill="#4a3f9e" textLength="23.11" lengthAdjust="spacingAndGlyphs" stroke="#4a3f9e" stroke-width="1.0" stroke-linejoin="round">B</text>
<text x="351.85" y="373.02" font-size="26.87" font-weight="700" fill="#4a3f9e" textLength="135.95" lengthAdjust="spacingAndGlyphs" stroke="#4a3f9e" stroke-width="0.5" stroke-linejoin="round">スチロール</text>
</g>
<g filter="url(#halo)">
<text x="455.82" y="419.09" font-size="30.27" font-weight="400" fill="#3a9fca" textLength="37.94" lengthAdjust="spacingAndGlyphs" stroke="#3a9fca" stroke-width="1.0" stroke-linejoin="round">30</text>
<text x="493.46" y="419.5" font-size="25.17" font-weight="400" fill="#3a9fca" textLength="41.39" lengthAdjust="spacingAndGlyphs" stroke="#3a9fca" stroke-width="1.0" stroke-linejoin="round">mm</text>
<text x="538.92" y="419.38" font-size="31.1" font-weight="400" fill="#3a9fca" textLength="10.04" lengthAdjust="spacingAndGlyphs" stroke="#3a9fca" stroke-width="1.0" stroke-linejoin="round">1</text>
<text x="554.37" y="420.01" font-size="27.66" font-weight="700" fill="#3a9fca" textLength="21.3" lengthAdjust="spacingAndGlyphs" stroke="#3a9fca" stroke-width="0.3" stroke-linejoin="round">種</text>
<text x="575.94" y="419.39" font-size="30.27" font-weight="400" fill="#3a9fca" textLength="18.7" lengthAdjust="spacingAndGlyphs" stroke="#3a9fca" stroke-width="1.0" stroke-linejoin="round">B</text>
<text x="593.89" y="420.45" font-size="27.84" font-weight="700" fill="#3a9fca" textLength="108.04" lengthAdjust="spacingAndGlyphs" stroke="#3a9fca" stroke-width="0.5" stroke-linejoin="round">スチロール</text>
</g>
<g filter="url(#halo)">
<text x="319.32" y="451.34" font-size="27.91" font-weight="400" fill="#2f9e3c" textLength="35.71" lengthAdjust="spacingAndGlyphs" stroke="#2f9e3c" stroke-width="1.0" stroke-linejoin="round">12</text>
<text x="354.84" y="451.41" font-size="24.31" font-weight="400" fill="#2f9e3c" textLength="38.73" lengthAdjust="spacingAndGlyphs" stroke="#2f9e3c" stroke-width="1.0" stroke-linejoin="round">mm</text>
<text x="394.13" y="451.96" font-size="27.4" font-weight="700" fill="#2f9e3c" textLength="53.94" lengthAdjust="spacingAndGlyphs" stroke="#2f9e3c" stroke-width="0.5" stroke-linejoin="round">合板</text>
</g>
<g filter="url(#halo)">
<text x="581.4" y="578.34" font-size="26.25" font-weight="900" fill="#f4681a" textLength="110.75" lengthAdjust="spacingAndGlyphs" stroke="#f4681a" stroke-width="0.6" stroke-linejoin="round">外気温度</text>
</g>
</g>
</svg></body></html>
